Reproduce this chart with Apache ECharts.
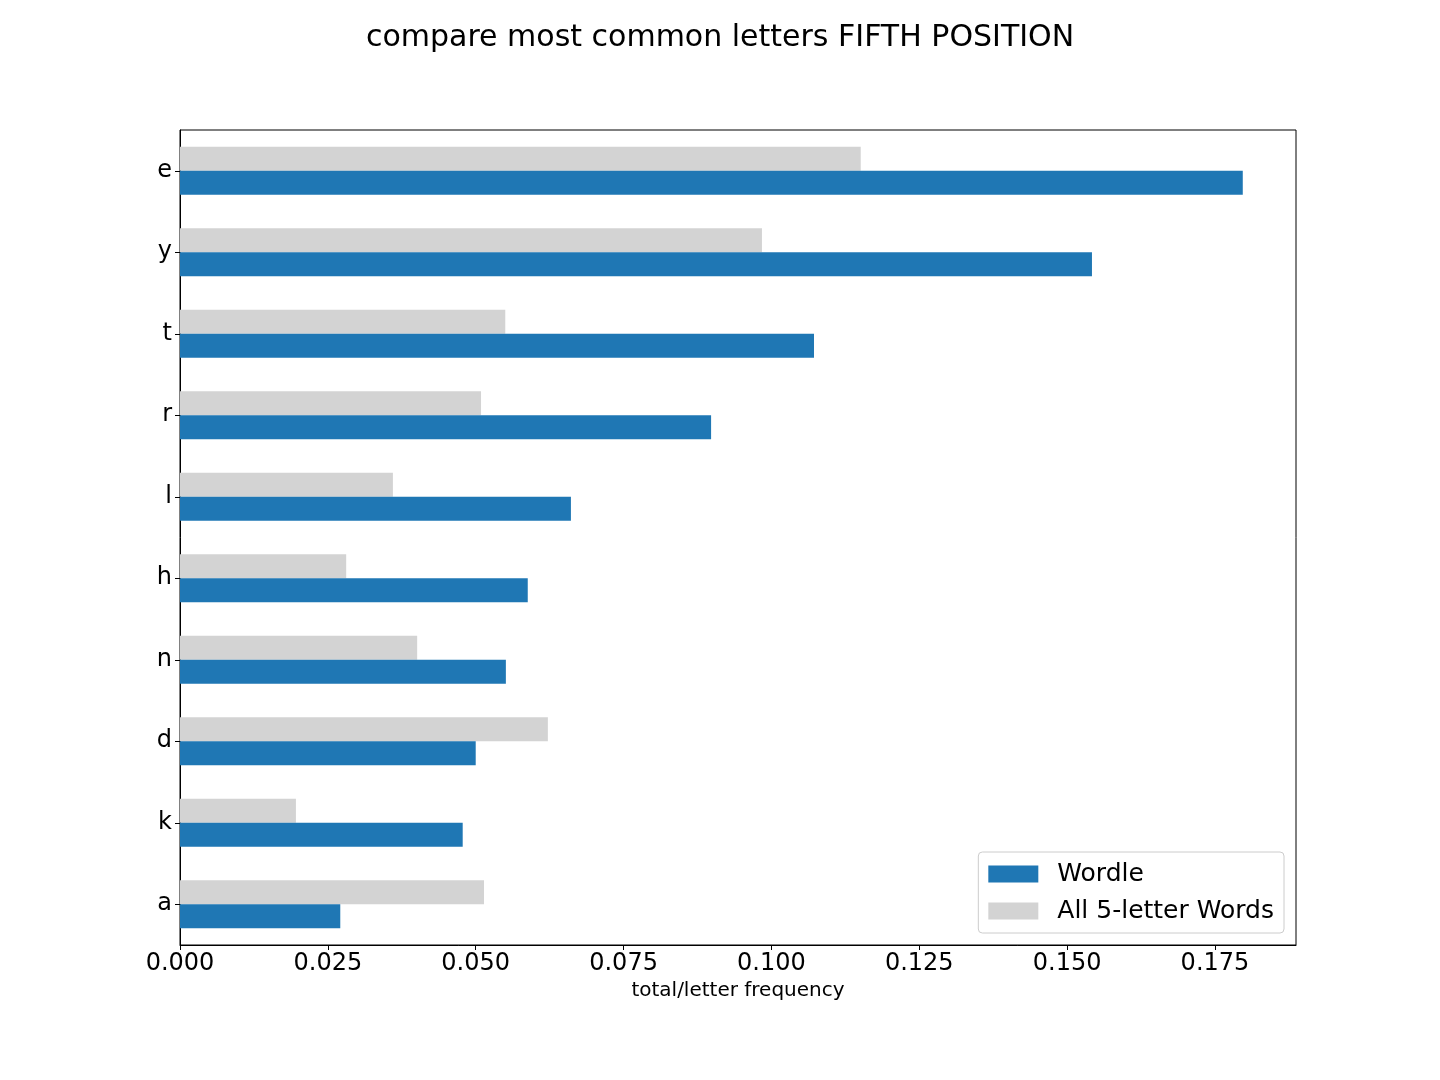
<!DOCTYPE html>
<html>
<head>
<meta charset="utf-8">
<script src="https://cdn.jsdelivr.net/npm/echarts@6/dist/echarts.min.js"></script>
<style>
  html, body { margin: 0; padding: 0; background: #fff; }
  #main { width: 1440px; height: 1080px; }
</style>
</head>
<body>
<div id="main"></div>
<script>
// letters, bottom to top
var letters = ['a', 'k', 'd', 'n', 'h', 'l', 'r', 't', 'y', 'e'];
var wordleFreq = [0.0271, 0.0478, 0.0500, 0.0551, 0.0588, 0.0661, 0.0898, 0.1072, 0.1542, 0.1797];
var allWordsFreq = [0.0514, 0.0196, 0.0622, 0.0401, 0.0281, 0.0360, 0.0509, 0.0550, 0.0984, 0.1151];
var xTicks = [0, 0.025, 0.05, 0.075, 0.1, 0.125, 0.15, 0.175];

var myChart = echarts.init(document.getElementById('main'));
var font = 'DejaVu Sans';

var option = {
    animation: false,
    textStyle: {fontFamily: font},
    title: {
        text: 'compare most common letters FIFTH POSITION',
        left: 'center',
        top: 18,
        textStyle: {fontFamily: font, fontSize: 30, fontWeight: 'normal', color: '#000'}
    },
    legend: {
        data: ['Wordle', 'All 5-letter Words'],
        orient: 'vertical',
        right: 156,
        top: 852,
        icon: 'rect',
        itemWidth: 50,
        itemHeight: 17,
        itemGap: 11,
        padding: [9, 10, 9, 10],
        borderColor: '#cccccc',
        borderWidth: 1,
        borderRadius: 4,
        backgroundColor: '#fff',
        textStyle: {fontFamily: font, fontSize: 25, lineHeight: 26, color: '#000', padding: [0, 0, 0, 14]}
    },
    grid: {
        left: 180, right: 144, top: 130, bottom: 135,
        show: true, borderColor: '#000', borderWidth: 1, backgroundColor: 'transparent'
    },
    xAxis: {
        type: 'value',
        min: 0,
        max: 0.1887,
        interval: 0.025,
        name: 'total/letter frequency',
        nameLocation: 'middle',
        nameGap: 34,
        nameTextStyle: {fontFamily: font, fontSize: 20, color: '#000'},
        axisLine: {show: true, lineStyle: {color: '#000'}},
        axisTick: {show: true, length: 5, lineStyle: {color: '#000'}},
        splitLine: {show: false},
        axisLabel: {
            fontFamily: font, fontSize: 24, color: '#000', margin: 7,
            showMaxLabel: false,
            formatter: function (v) {
                for (var i = 0; i < xTicks.length; i++) {
                    if (Math.abs(xTicks[i] - v) < 1e-9) return v.toFixed(3);
                }
                return '';
            }
        }
    },
    yAxis: {
        type: 'category',
        data: letters,
        axisLine: {show: true, lineStyle: {color: '#000'}},
        axisTick: {show: true, length: 5, alignWithLabel: true, lineStyle: {color: '#000'}},
        axisLabel: {fontFamily: font, fontSize: 24, color: '#000', margin: 8}
    },
    series: [
        {
            name: 'All 5-letter Words',
            type: 'bar',
            data: allWordsFreq,
            barWidth: 24,
            barGap: '0%',
            itemStyle: {color: '#d3d3d3'}
        },
        {
            name: 'Wordle',
            type: 'bar',
            data: wordleFreq,
            barWidth: 24,
            barGap: '0%',
            itemStyle: {color: '#1f77b4'}
        }
    ]
};

myChart.setOption(option);
</script>
</body>
</html>
